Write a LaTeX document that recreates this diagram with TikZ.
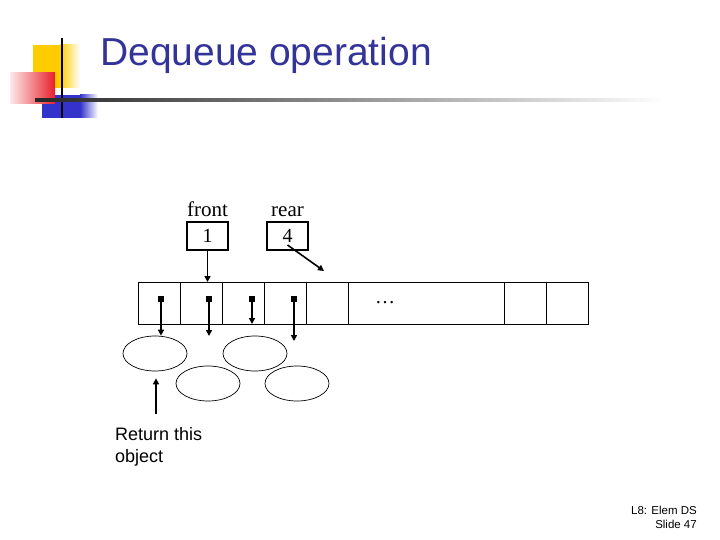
\documentclass[tikz,border=0pt]{standalone}
\usepackage{fontspec}
\setmainfont{Liberation Serif}
\newfontfamily\slidefont{Liberation Sans}
\usepackage{xcolor}
\usetikzlibrary{positioning, arrows.meta, shapes.geometric}
\definecolor{slideblue}{HTML}{333399}
\definecolor{slidegold}{HTML}{FFCC00}
\definecolor{slidered}{HTML}{E8202A}
\definecolor{slidesquare}{HTML}{3333CC}

\begin{document}
\begin{tikzpicture}[x=1pt, y=-1pt,
    cell/.style={draw, line width=1pt, minimum width=42pt, minimum height=42pt, inner sep=0pt, outer sep=0pt},
    ptr/.style={draw, line width=1.2pt, minimum width=41pt, minimum height=28pt, inner sep=0pt, font=\fontsize{20}{22}\selectfont},
    obj/.style={draw, ellipse, line width=0.7pt, minimum width=64pt, minimum height=35pt},
    dot/.style={fill=black, minimum size=5.5pt, inner sep=0pt},
    arr/.style={line width=1.6pt, -{Triangle[length=6pt, width=6pt]}}]
  \useasboundingbox (0,0) rectangle (720,540);
  % title decoration
  \fill[slidegold] (33,45) rectangle (60,88);
  \shade[left color=slidegold, right color=white] (60,45) rectangle (80,88);
  \fill[slidesquare] (42,95) rectangle (80,118);
  \shade[left color=slidesquare, right color=white] (80,95) rectangle (98,118);
  \shade[left color=slidered!10, right color=slidered] (10,73) rectangle (55,104);
  \draw[line width=1.5pt] (62,38) -- (62,118);
  \shade[left color=black!85, right color=white] (35,99) rectangle (665,102);
  \node[anchor=base west, text=slideblue, font=\slidefont\fontsize{39}{44}\selectfont, inner sep=0pt] (title) at (100,66) {Dequeue operation};

  % front and rear
  \node[ptr] (front) at (207.5,236) {1};
  \node[ptr] (rear) at (287.5,236) {4};
  \node[above=4pt of front, font=\fontsize{21}{24}\selectfont, inner sep=0pt] (frontlbl) {front};
  \node[above=4pt of rear, font=\fontsize{21}{24}\selectfont, inner sep=0pt] (rearlbl) {rear};

  % the array
  \node[cell] (c1) at (159,303) {};
  \node[cell, right=0pt of c1] (c2) {};
  \node[cell, right=0pt of c2] (c3) {};
  \node[cell, right=0pt of c3] (c4) {};
  \node[cell, right=0pt of c4] (c5) {};
  \node[cell, minimum width=156pt, right=0pt of c5] (c6) {};
  \node[cell, right=0pt of c6] (c7) {};
  \node[cell, right=0pt of c7] (c8) {};
  \node[font=\fontsize{20}{22}\selectfont] (gap) at (385,303) {\ldots};

  \node[dot] (d1) at (161,299) {};
  \node[dot] (d2) at (209,299) {};
  \node[dot] (d3) at (252,299) {};
  \node[dot] (d4) at (294,299) {};

  % the objects
  \node[obj] (o1) at (155,353.5) {};
  \node[obj] (o2) at (208,383.5) {};
  \node[obj] (o3) at (255,353.5) {};
  \node[obj] (o4) at (297,383.5) {};

  \coordinate (e2) at (209,336);
  \coordinate (e4) at (294,341);
  \coordinate (rearend) at (324,271);
  \coordinate (ret) at (156,414);

  \draw[arr] (front.south) -- (front.south |- c2.north);
  \draw[arr] ([yshift=-9pt]rear.center) -- (rearend);
  \draw[arr] (d1.center) -- (d1 |- o1.north);
  \draw[arr] (d2.center) -- (e2);
  \draw[arr] (d3.center) -- (d3 |- c3.south);
  \draw[arr] (d4.center) -- (e4);
  \draw[arr] (ret) -- ([yshift=-7pt]ret |- o1.south);

  \node[anchor=north west, align=left, inner sep=0pt, font=\slidefont\fontsize{18}{22}\selectfont] (retlbl) at (115,427) {Return this\\object};

  % footer
  \node[anchor=south east, align=right, inner sep=0pt, font=\slidefont\fontsize{11.5}{14}\selectfont] (foot) at (697,529) {L8: Elem DS\\Slide 47};
\end{tikzpicture}
\end{document}
